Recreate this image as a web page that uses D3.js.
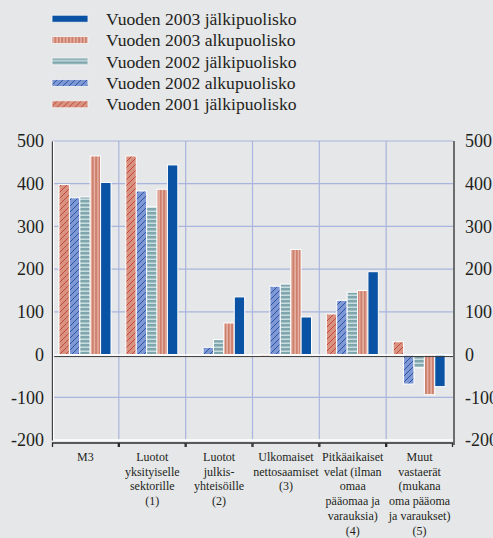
<!DOCTYPE html>
<html>
<head>
<meta charset="utf-8">
<script src="https://cdn.jsdelivr.net/npm/d3@7"></script>
</head>
<body style="margin:0; padding:0; background:#e6e7e9;">
<div id="chart"></div>
<script>
// categories, one array of lines per label
const categories = [
    ["M3"],
    ["Luotot", "yksityiselle", "sektorille", "(1)"],
    ["Luotot", "julkis-", "yhteisöille", "(2)"],
    ["Ulkomaiset", "nettosaamiset", "(3)"],
    ["Pitkäaikaiset", "velat (ilman", "omaa", "pääomaa ja", "varauksia)", "(4)"],
    ["Muut", "vastaerät", "(mukana", "oma pääoma", "ja varaukset)", "(5)"]
];

// series values, order as drawn left to right in each group
const h2_2001 = [398, 465, 0, -5, 95, 30];
const h1_2002 = [367, 383, 17, 160, 127, -69];
const h2_2002 = [369, 346, 35, 165, 146, -31];
const h1_2003 = [465, 387, 74, 246, 150, -94];
const h2_2003 = [403, 444, 135, 88, 194, -75];

const seriesNames = [
    "Vuoden 2001 jälkipuolisko",
    "Vuoden 2002 alkupuolisko",
    "Vuoden 2002 jälkipuolisko",
    "Vuoden 2003 alkupuolisko",
    "Vuoden 2003 jälkipuolisko"
];
const seriesValues = [h2_2001, h1_2002, h2_2002, h1_2003, h2_2003];
const legendOrder = [4, 3, 2, 1, 0];

const yTicks = [-200, -100, 0, 100, 200, 300, 400, 500];

const Width = 493, Height = 538;
const Plot = {left: 52, right: 453, top: 141, bottom: 440};
const Font = "'Liberation Serif', 'DejaVu Serif', serif";

let svg = d3.select("#chart").append("svg")
    .attr("width", Width).attr("height", Height)
    .style("display", "block")
    .style("font-family", Font);

// fills
let defs = svg.append("defs");
function hatch(id, bg, fg)
{
    let p = defs.append("pattern").attr("id", id)
        .attr("patternUnits", "userSpaceOnUse").attr("width", 6).attr("height", 6);
    p.append("rect").attr("width", 6).attr("height", 6).attr("fill", bg);
    p.append("path").attr("d", "M-1,7 L7,-1 M-1,1 L1,-1 M5,7 L7,5")
        .attr("stroke", fg).attr("stroke-width", 0.9);
}
hatch("f0", "#d8927f", "#c03d33");
hatch("f1", "#7f97d2", "#1d4ea5");
{
    let p = defs.append("pattern").attr("id", "f2")
        .attr("patternUnits", "userSpaceOnUse").attr("width", 4).attr("height", 4);
    p.append("rect").attr("width", 4).attr("height", 4).attr("fill", "#80a6ad");
    p.append("rect").attr("y", 2.5).attr("width", 4).attr("height", 1.5).attr("fill", "#c9dcdf");
}
{
    let p = defs.append("pattern").attr("id", "f3")
        .attr("patternUnits", "userSpaceOnUse").attr("width", 3.4).attr("height", 4);
    p.append("rect").attr("width", 3.4).attr("height", 4).attr("fill", "#cc7f6d");
    p.append("rect").attr("x", 2).attr("width", 1.4).attr("height", 4).attr("fill", "#e8b5a7");
}
const fills = ["url(#f0)", "url(#f1)", "url(#f2)", "url(#f3)", "#0a52a3"];

// scales
let ScaleX = d3.scaleBand().domain(d3.range(categories.length))
    .range([Plot.left, Plot.right]);
let ScaleInner = d3.scaleBand().domain(d3.range(seriesValues.length))
    .range([7, 59]);
let ScaleY = d3.scaleLinear().domain([-200, 500]).range([Plot.bottom, Plot.top]);

// grid
let grid = svg.append("g");
grid.selectAll("line.h").data(yTicks.filter(t => t != 0 && t != -200)).join("line")
    .attr("x1", Plot.left).attr("x2", Plot.right)
    .attr("y1", d => ScaleY(d)).attr("y2", d => ScaleY(d))
    .attr("stroke", "#a9b5dc").attr("stroke-width", 1.2);
grid.selectAll("line.v").data(d3.range(1, categories.length)).join("line")
    .attr("x1", d => ScaleX(d)).attr("x2", d => ScaleX(d))
    .attr("y1", Plot.top).attr("y2", Plot.bottom)
    .attr("stroke", "#a9b5dc").attr("stroke-width", 1.2);
grid.append("line")
    .attr("x1", Plot.left).attr("x2", Plot.right)
    .attr("y1", ScaleY(-200)).attr("y2", ScaleY(-200))
    .attr("stroke", "#ffffff").attr("stroke-width", 1.5);

// bars
seriesValues.forEach((vals, s) => {
    svg.append("g").selectAll("rect").data(vals).join("rect")
        .attr("x", (d, i) => ScaleX(i) + ScaleInner(s))
        .attr("width", ScaleInner.bandwidth())
        .attr("y", d => ScaleY(Math.max(0, d)))
        .attr("height", d => Math.abs(ScaleY(d) - ScaleY(0)))
        .attr("fill", fills[s])
        .attr("stroke", "#ffffff").attr("stroke-width", 1);
});

// zero line
svg.append("line").attr("x1", Plot.left).attr("x2", Plot.right)
    .attr("y1", ScaleY(0) + 0.5).attr("y2", ScaleY(0) + 0.5)
    .attr("stroke", "#ffffff").attr("stroke-width", 1.5);
svg.append("line").attr("x1", Plot.left).attr("x2", Plot.right)
    .attr("y1", ScaleY(0) + 2).attr("y2", ScaleY(0) + 2)
    .attr("stroke", "#3a3a3a").attr("stroke-width", 1);

// left and right axes, hyphen as minus like the reference
let fmt = d => String(d);
let AxisL = d3.axisLeft(ScaleY).tickValues(yTicks).tickFormat(fmt).tickSize(0).tickPadding(8);
let gl = svg.append("g").attr("transform", `translate(${Plot.left}, 0)`).call(AxisL);
let AxisR = d3.axisRight(ScaleY).tickValues(yTicks).tickFormat(fmt).tickSize(0).tickPadding(11);
let gr = svg.append("g").attr("transform", `translate(${Plot.right + 1}, 0)`).call(AxisR);
[gl, gr].forEach(g => {
    g.attr("font-family", null).attr("font-size", null);
    g.select(".domain").attr("stroke", "#2b2b2b").attr("stroke-width", 1.3);
    g.selectAll("text").attr("font-size", 18).attr("fill", "#231f20")
        .style("font-family", Font);
});
gr.select(".domain").attr("d", `M0,${Plot.top}V${Plot.bottom + 5}`);
svg.append("line").attr("x1", Plot.left + 1.5).attr("x2", Plot.left + 1.5)
    .attr("y1", Plot.top).attr("y2", Plot.bottom)
    .attr("stroke", "#ffffff").attr("stroke-width", 1.2);

// category brackets and labels
let cat = svg.append("g").selectAll("g").data(categories).join("g")
    .attr("transform", (d, i) => `translate(${ScaleX(i)}, 0)`);
cat.append("path")
    .attr("d", `M0.5,${Plot.bottom + 7}V${Plot.bottom + 3}H${ScaleX.bandwidth() - 0.5}V${Plot.bottom + 7}`)
    .attr("fill", "none").attr("stroke", "#2b2b2b").attr("stroke-width", 1.3);
cat.append("text")
    .attr("x", ScaleX.bandwidth() / 2).attr("y", 461)
    .attr("text-anchor", "middle").attr("font-size", 12)
    .attr("fill", "#231f20").style("font-family", Font)
    .selectAll("tspan").data(d => d).join("tspan")
    .attr("x", ScaleX.bandwidth() / 2)
    .attr("dy", (d, i) => i == 0 ? 0 : 14.7)
    .text(d => d);

// legend
let legend = svg.append("g").selectAll("g").data(legendOrder).join("g")
    .attr("transform", (d, i) => `translate(0, ${18.7 + i * 21.4})`);
legend.append("rect")
    .attr("x", 52).attr("y", -3.5).attr("width", 36).attr("height", 7)
    .attr("fill", d => fills[d]).attr("stroke", "#f4f4f4").attr("stroke-width", 0.8);
legend.append("text")
    .attr("x", 106).attr("y", 6).attr("font-size", 17.6)
    .attr("fill", "#231f20").style("font-family", Font)
    .text(d => seriesNames[d]);
</script>
</body>
</html>
